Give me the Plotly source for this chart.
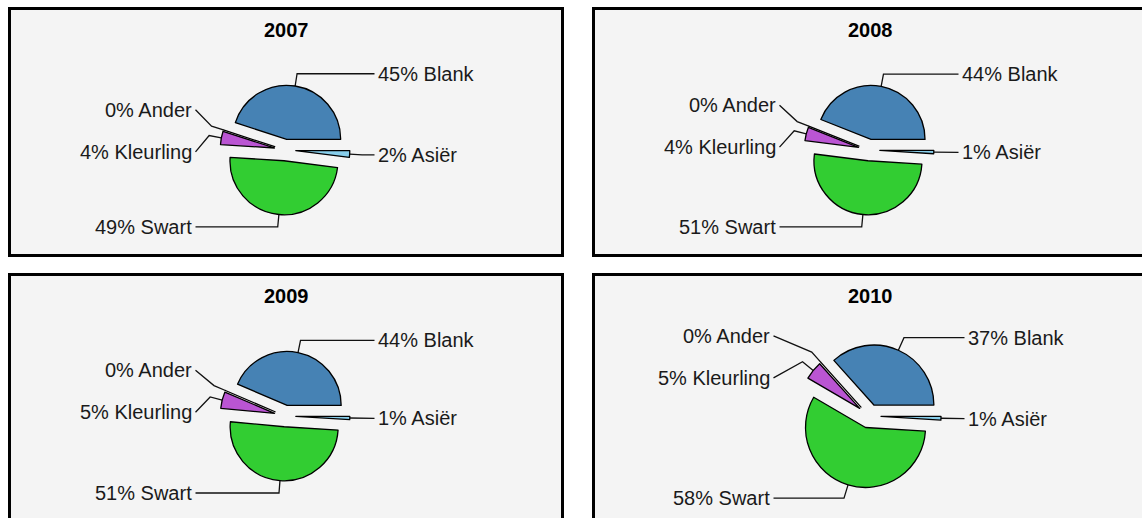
import math
import plotly.graph_objects as go

# ---------------- data ----------------
years = ["2007", "2008", "2009", "2010"]
categories = ["Asiër", "Swart", "Kleurling", "Ander", "Blank"]
values_2007 = [2, 49, 4, 0, 45]
values_2008 = [1, 51, 4, 0, 44]
values_2009 = [1, 51, 5, 0, 44]
values_2010 = [1, 58, 5, 0, 37]
series = [values_2007, values_2008, values_2009, values_2010]

# ---------------- style ----------------
W, H = 1142, 518
slice_colors = ["#87CEEB", "#32CD32", "#BA55D3", "#FF9900", "#4682B4"]
panel_origin = [(8, 7), (592, 7), (8, 273), (592, 273)]
panel_w, panel_h = 556, 250
pie_radius = [54, 54, 54, 60]
pie_dx, pie_dy = 277, 143
pull = 0.2
bend_factor = 1.43
label_extra = 35.5
label_gap = 42
text_pad = 2.5
FONT = "Arial, 'Liberation Sans', sans-serif"

fig = go.Figure()
shapes, annotations = [], []
lx, ly = [], []


def spread(items, gap):
    items = sorted(items, key=lambda d: d["ideal"])
    clusters = [[it] for it in items]

    def start(cl):
        m = sum(i["ideal"] for i in cl) / len(cl)
        return m - gap * (len(cl) - 1) / 2

    changed = True
    while changed:
        changed = False
        for k in range(len(clusters) - 1):
            a, b = clusters[k], clusters[k + 1]
            if start(b) - (start(a) + gap * (len(a) - 1)) < gap:
                clusters[k] = a + b
                del clusters[k + 1]
                changed = True
                break
    for cl in clusters:
        s = start(cl)
        for j, it in enumerate(cl):
            it["y"] = s + j * gap


for idx, (year, vals) in enumerate(zip(years, series)):
    px0, py0 = panel_origin[idx]
    r = pie_radius[idx]
    cx, cy = px0 + pie_dx, py0 + pie_dy

    shapes.append(dict(type="rect", xref="x", yref="y", layer="below",
                       x0=px0 + 1.5, x1=px0 + panel_w - 1.5,
                       y0=py0 + 1.5, y1=py0 + panel_h - 1.5,
                       line=dict(color="#000000", width=3), fillcolor="#F4F4F4"))
    annotations.append(dict(xref="x", yref="y", x=px0 + panel_w / 2, y=py0 + 23,
                            text="<b>%s</b>" % year, showarrow=False,
                            xanchor="center", yanchor="middle", borderpad=0,
                            font=dict(family=FONT, size=20, color="#000000")))

    half = r * (1 + pull)
    fig.add_trace(go.Pie(
        labels=categories, values=vals, sort=False, direction="clockwise",
        rotation=90, pull=[pull] * len(vals), textinfo="none", hoverinfo="skip",
        showlegend=False,
        marker=dict(colors=slice_colors, line=dict(color="#000000", width=1.3)),
        domain=dict(x=[(cx - half) / W, (cx + half) / W],
                    y=[1 - (cy + half) / H, 1 - (cy - half) / H]),
    ))

    total = float(sum(vals))
    ang = 90.0
    left_items, right_items = [], []
    for name, v in zip(categories, vals):
        span = 360.0 * v / total
        mid = math.radians(ang + span / 2)
        ang += span
        ux, uy = math.sin(mid), -math.cos(mid)
        s = (cx + (1 + pull) * r * ux, cy + (1 + pull) * r * uy)
        b = (cx + bend_factor * r * ux, cy + bend_factor * r * uy)
        item = dict(name=name, v=v, s=s, b=b, ideal=b[1])
        (right_items if ux > 0 else left_items).append(item)

    spread(left_items, label_gap)
    spread(right_items, label_gap)

    L = r + label_extra
    for side, items in (("right", right_items), ("left", left_items)):
        for it in items:
            ex = cx + L if side == "right" else cx - L
            lx.extend([it["s"][0], it["b"][0], ex, None])
            ly.extend([it["s"][1], it["b"][1], it["y"], None])
            annotations.append(dict(
                xref="x", yref="y",
                x=ex + text_pad if side == "right" else ex - text_pad,
                y=it["y"], text="%d%% %s" % (it["v"], it["name"]),
                showarrow=False, borderpad=0,
                xanchor="left" if side == "right" else "right", yanchor="middle",
                font=dict(family=FONT, size=20, color="#1A1A1A")))

fig.add_trace(go.Scatter(x=lx, y=ly, mode="lines", hoverinfo="skip",
                         showlegend=False, line=dict(color="#111111", width=1.3)))

fig.update_layout(
    width=W, height=H, margin=dict(l=0, r=0, t=0, b=0),
    paper_bgcolor="#FFFFFF", plot_bgcolor="#FFFFFF",
    xaxis=dict(range=[0, W], visible=False, fixedrange=True),
    yaxis=dict(range=[H, 0], visible=False, fixedrange=True),
    shapes=shapes, annotations=annotations,
)

fig.write_html("out.html", config={"displayModeBar": False},
               post_script="document.body.style.margin='0';document.body.style.overflow='hidden';")
